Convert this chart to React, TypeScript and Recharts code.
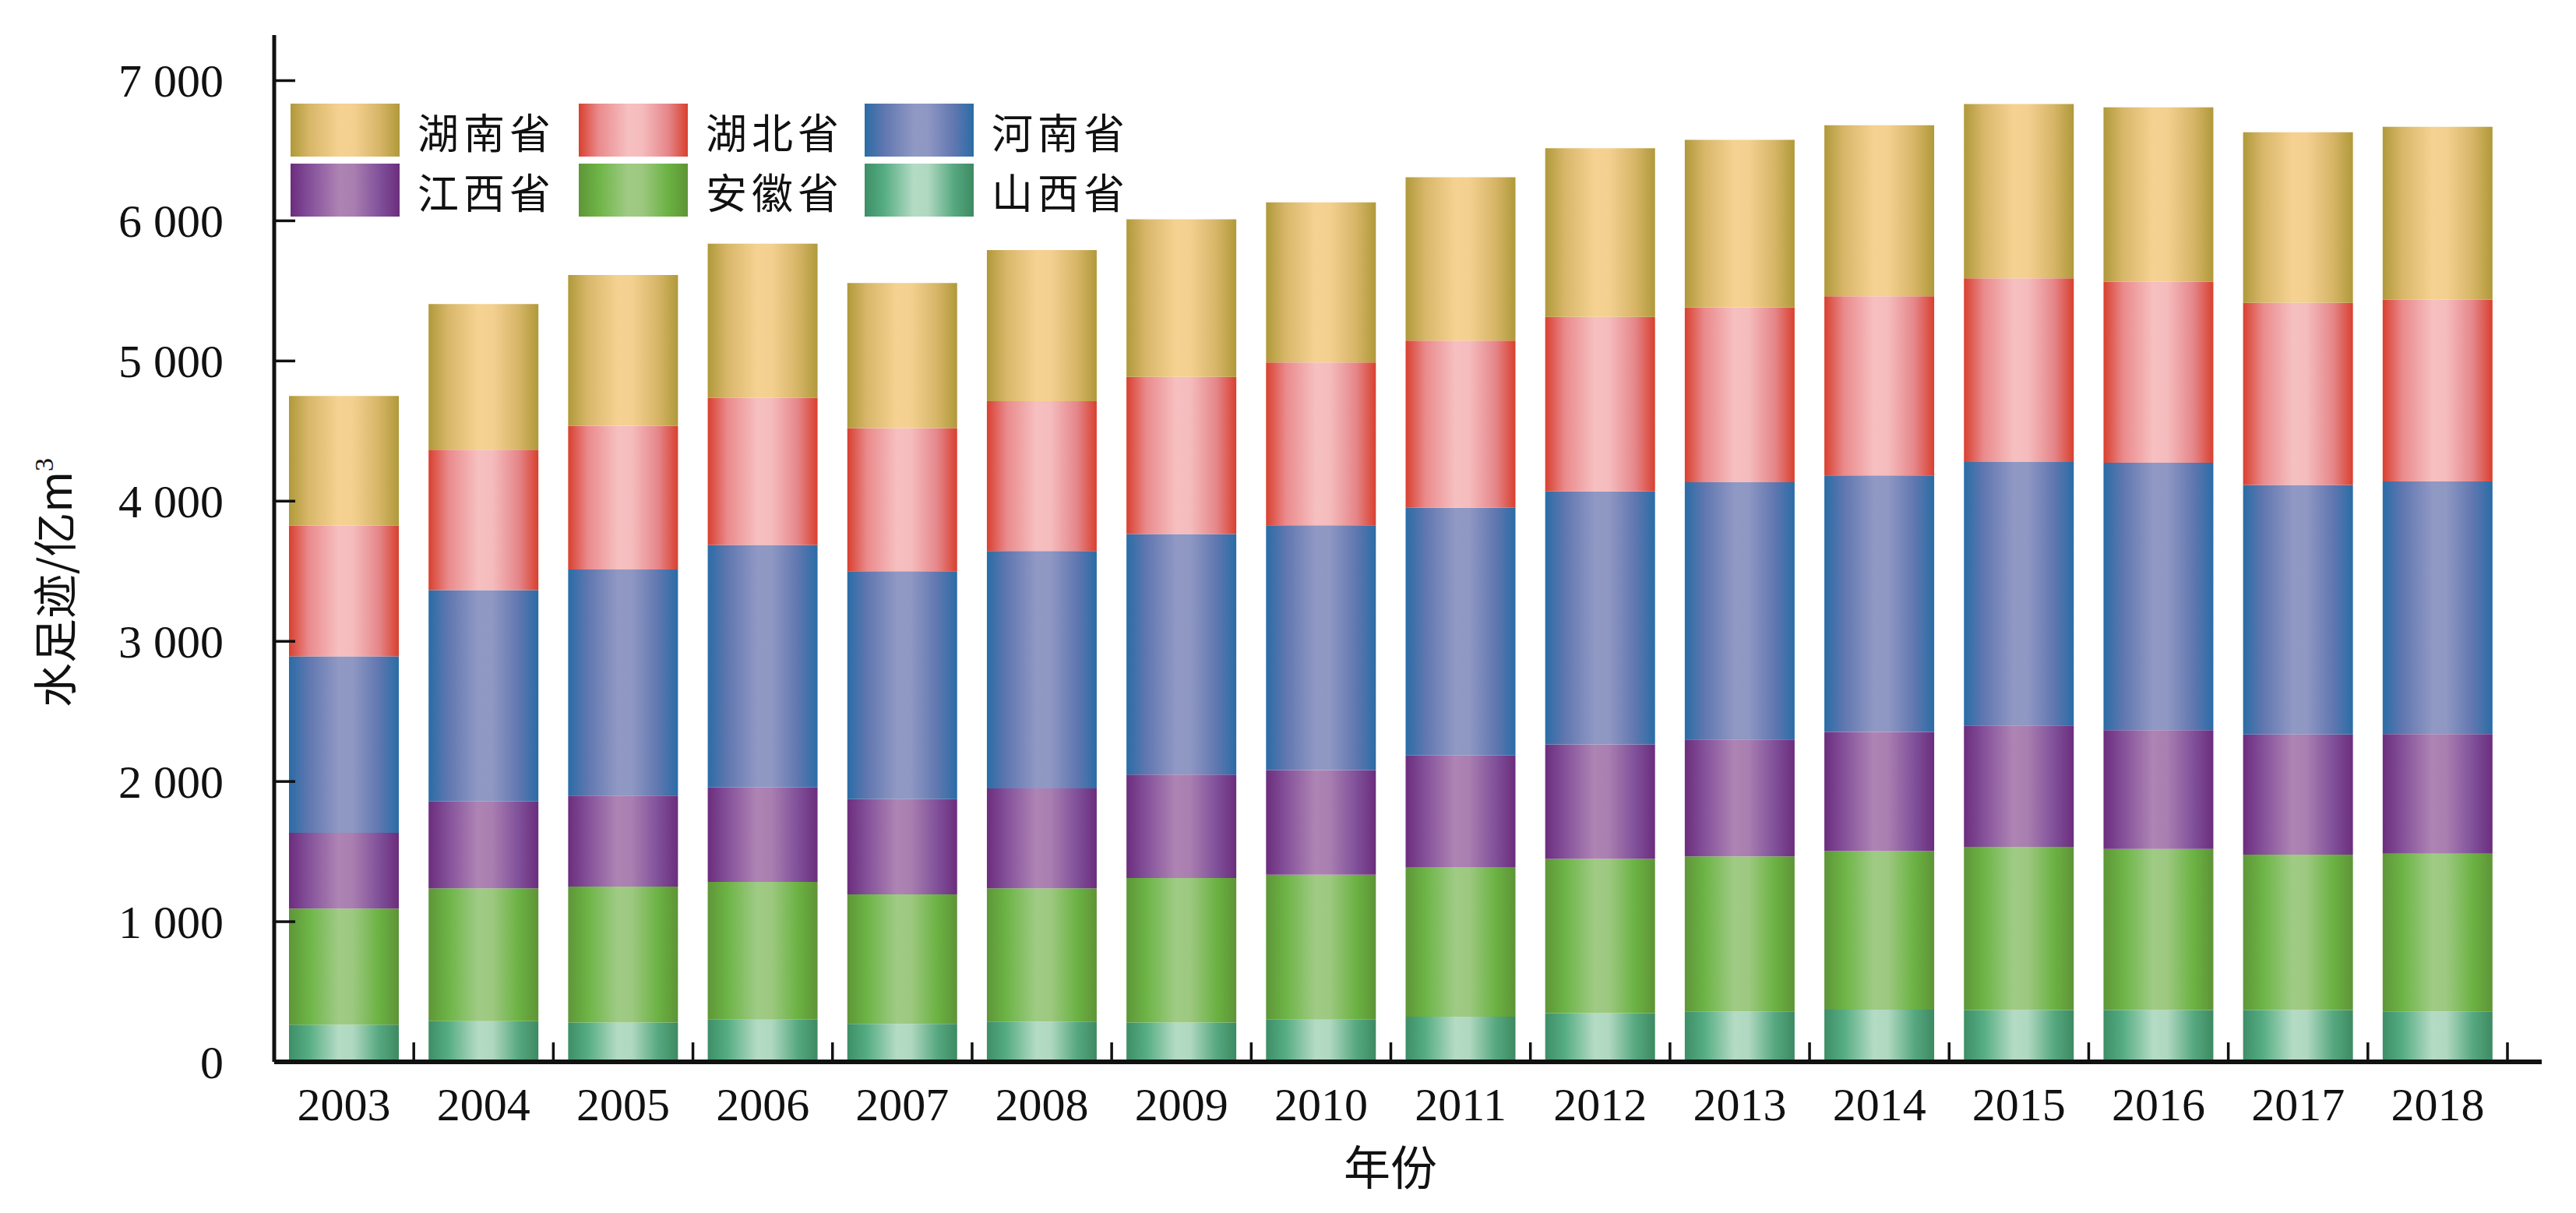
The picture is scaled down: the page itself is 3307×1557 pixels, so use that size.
import React from 'react';
import { BarChart, Bar, XAxis, YAxis, Legend, Label } from 'recharts';

// Water footprint per province, 亿m³
const years = ['2003', '2004', '2005', '2006', '2007', '2008', '2009', '2010', '2011', '2012', '2013', '2014', '2015', '2016', '2017', '2018'];
const shanxi = [265, 290, 280, 302, 271, 287, 280, 302, 323, 348, 360, 372, 369, 369, 369, 360];
const anhui = [829, 948, 970, 982, 924, 951, 1031, 1033, 1067, 1100, 1106, 1131, 1165, 1149, 1110, 1125];
const jiangxi = [540, 619, 649, 673, 680, 713, 738, 747, 796, 817, 833, 851, 865, 848, 856, 853];
const henan = [1259, 1508, 1613, 1730, 1625, 1694, 1717, 1746, 1767, 1805, 1836, 1829, 1880, 1908, 1780, 1802];
const hubei = [933, 1002, 1026, 1049, 1021, 1068, 1121, 1161, 1192, 1245, 1248, 1279, 1311, 1291, 1299, 1297];
const hunan = [924, 1039, 1075, 1101, 1035, 1078, 1123, 1143, 1166, 1203, 1194, 1220, 1243, 1245, 1217, 1234];
const yTicks = [0, 1000, 2000, 3000, 4000, 5000, 6000, 7000];

// bottom → top stacking order
const SERIES = [
  { key: 'shanxi', name: '山西省', values: shanxi, stops: ['#3d8e66', '#56ad83', '#b4dbc4', '#b0d8c0', '#56a880', '#3d8a62'] },
  { key: 'anhui', name: '安徽省', values: anhui, stops: ['#5e9638', '#6db446', '#9fcb85', '#9dc880', '#6bb243', '#5e9436'] },
  { key: 'jiangxi', name: '江西省', values: jiangxi, stops: ['#6b2d7d', '#85519a', '#ae84b4', '#a97eb0', '#80509a', '#6b2d7d'] },
  { key: 'henan', name: '河南省', values: henan, stops: ['#2a6ca6', '#6077b0', '#9098c4', '#8f97c3', '#6077b0', '#2a6ca6'] },
  { key: 'hubei', name: '湖北省', values: hubei, stops: ['#d8402f', '#ea8a8c', '#f6bfc0', '#f5bcbd', '#e5868a', '#d8402f'] },
  { key: 'hunan', name: '湖南省', values: hunan, stops: ['#b0993a', '#d8b76a', '#f5d291', '#f4d090', '#d6b567', '#b0993a'] },
];
const STOP_OFFSETS = ['0%', '18%', '45%', '58%', '82%', '100%'];

const data = years.map((year, i) => {
  const row: Record<string, string | number> = { year };
  SERIES.forEach((s) => {
    row[s.key] = s.values[i];
  });
  return row;
});

const W = 3291;
const H = 1541;
const MARGIN = { top: 37, right: 36, left: 0, bottom: 0 };
const Y_AXIS_W = 344;
const X_AXIS_H = 186;
const PAD_RIGHT = 44;
const BAND = (W - MARGIN.left - MARGIN.right - Y_AXIS_W - PAD_RIGHT) / years.length;
const FONT = '"Liberation Serif", "Times New Roman", "Noto Sans CJK SC", serif';
const CJK = '"Noto Sans CJK SC", "Liberation Serif", serif';
const INK = '#111';

function fmt(v: number) {
  if (v < 1000) return String(v);
  return `${Math.floor(v / 1000)} ${String(v % 1000).padStart(3, '0')}`;
}

function XTick(props: any) {
  const { x, y, payload } = props;
  return (
    <g>
      <line x1={x + BAND / 2} x2={x + BAND / 2} y1={y - 25} y2={y} stroke={INK} strokeWidth={3.5} />
      <text x={x} y={y + 75} textAnchor="middle" fontFamily={FONT} fontSize={60} fill={INK}>
        {payload.value}
      </text>
    </g>
  );
}

function YTick(props: any) {
  const { x, y, payload } = props;
  return (
    <g>
      {payload.value > 0 && <line x1={x} x2={x + 27} y1={y} y2={y} stroke={INK} strokeWidth={3.5} />}
      <text x={x - 65} y={y + 21} textAnchor="end" fontFamily={FONT} fontSize={60} fill={INK}>
        {fmt(payload.value)}
      </text>
    </g>
  );
}

function cssGradient(stops: string[]) {
  return `linear-gradient(to right, ${stops.map((c, i) => `${c} ${STOP_OFFSETS[i]}`).join(', ')})`;
}

function LegendGrid() {
  // legend order reads top row first: 湖南 湖北 河南 / 江西 安徽 山西
  const items = [...SERIES].reverse();
  const colX = [365, 735, 1102];
  const rowY = [125, 202];
  return (
    <div style={{ position: 'relative', width: 0, height: 0 }}>
      {items.map((s, i) => {
        const left = colX[i % 3];
        const top = rowY[Math.floor(i / 3)];
        return (
          <React.Fragment key={s.key}>
            <div
              style={{
                position: 'absolute',
                left,
                top,
                width: 140,
                height: 68,
                background: cssGradient(s.stops),
              }}
            />
            <div
              style={{
                position: 'absolute',
                left: left + 163,
                top: top - 3,
                height: 76,
                lineHeight: '76px',
                fontFamily: CJK,
                fontSize: 53,
                letterSpacing: 6,
                color: INK,
                whiteSpace: 'nowrap',
              }}
            >
              {s.name}
            </div>
          </React.Fragment>
        );
      })}
    </div>
  );
}

export default function App() {
  return (
    <BarChart width={W} height={H} data={data} margin={MARGIN}>
      <defs>
        {SERIES.map((s) => (
          <linearGradient key={s.key} id={`g-${s.key}`} x1="0" y1="0" x2="1" y2="0">
            {s.stops.map((c, i) => (
              <stop key={i} offset={STOP_OFFSETS[i]} stopColor={c} />
            ))}
          </linearGradient>
        ))}
      </defs>
      <XAxis
        dataKey="year"
        type="category"
        interval={0}
        height={X_AXIS_H}
        padding={{ left: 0, right: PAD_RIGHT }}
        tickLine={false}
        tickSize={0}
        tickMargin={0}
        tick={<XTick />}
        axisLine={{ stroke: INK, strokeWidth: 6 }}
      >
        <Label
          content={() => (
            <text x={1777} y={1513} textAnchor="middle" fontFamily={CJK} fontSize={60} fill={INK}>
              年份
            </text>
          )}
        />
      </XAxis>
      <YAxis
        width={Y_AXIS_W}
        domain={[0, 7325]}
        ticks={yTicks}
        interval={0}
        tickLine={false}
        tickSize={0}
        tickMargin={0}
        tick={<YTick />}
        axisLine={{ stroke: INK, strokeWidth: 5 }}
      >
        <Label
          content={() => (
            <text
              x={0}
              y={0}
              transform="translate(84 740) rotate(-90)"
              textAnchor="middle"
              fontFamily={CJK}
              fontSize={57}
              fill={INK}
            >
              水足迹/亿m
              <tspan fontFamily={FONT} fontSize={34} dy={-24}>
                3
              </tspan>
            </text>
          )}
        />
      </YAxis>
      <Legend
        verticalAlign="top"
        wrapperStyle={{ top: 0, left: 0, width: 0, height: 0 }}
        content={() => <LegendGrid />}
      />
      {SERIES.map((s) => (
        <Bar
          key={s.key}
          dataKey={s.key}
          name={s.name}
          stackId="water"
          barSize={141}
          fill={`url(#g-${s.key})`}
          isAnimationActive={false}
        />
      ))}
    </BarChart>
  );
}
